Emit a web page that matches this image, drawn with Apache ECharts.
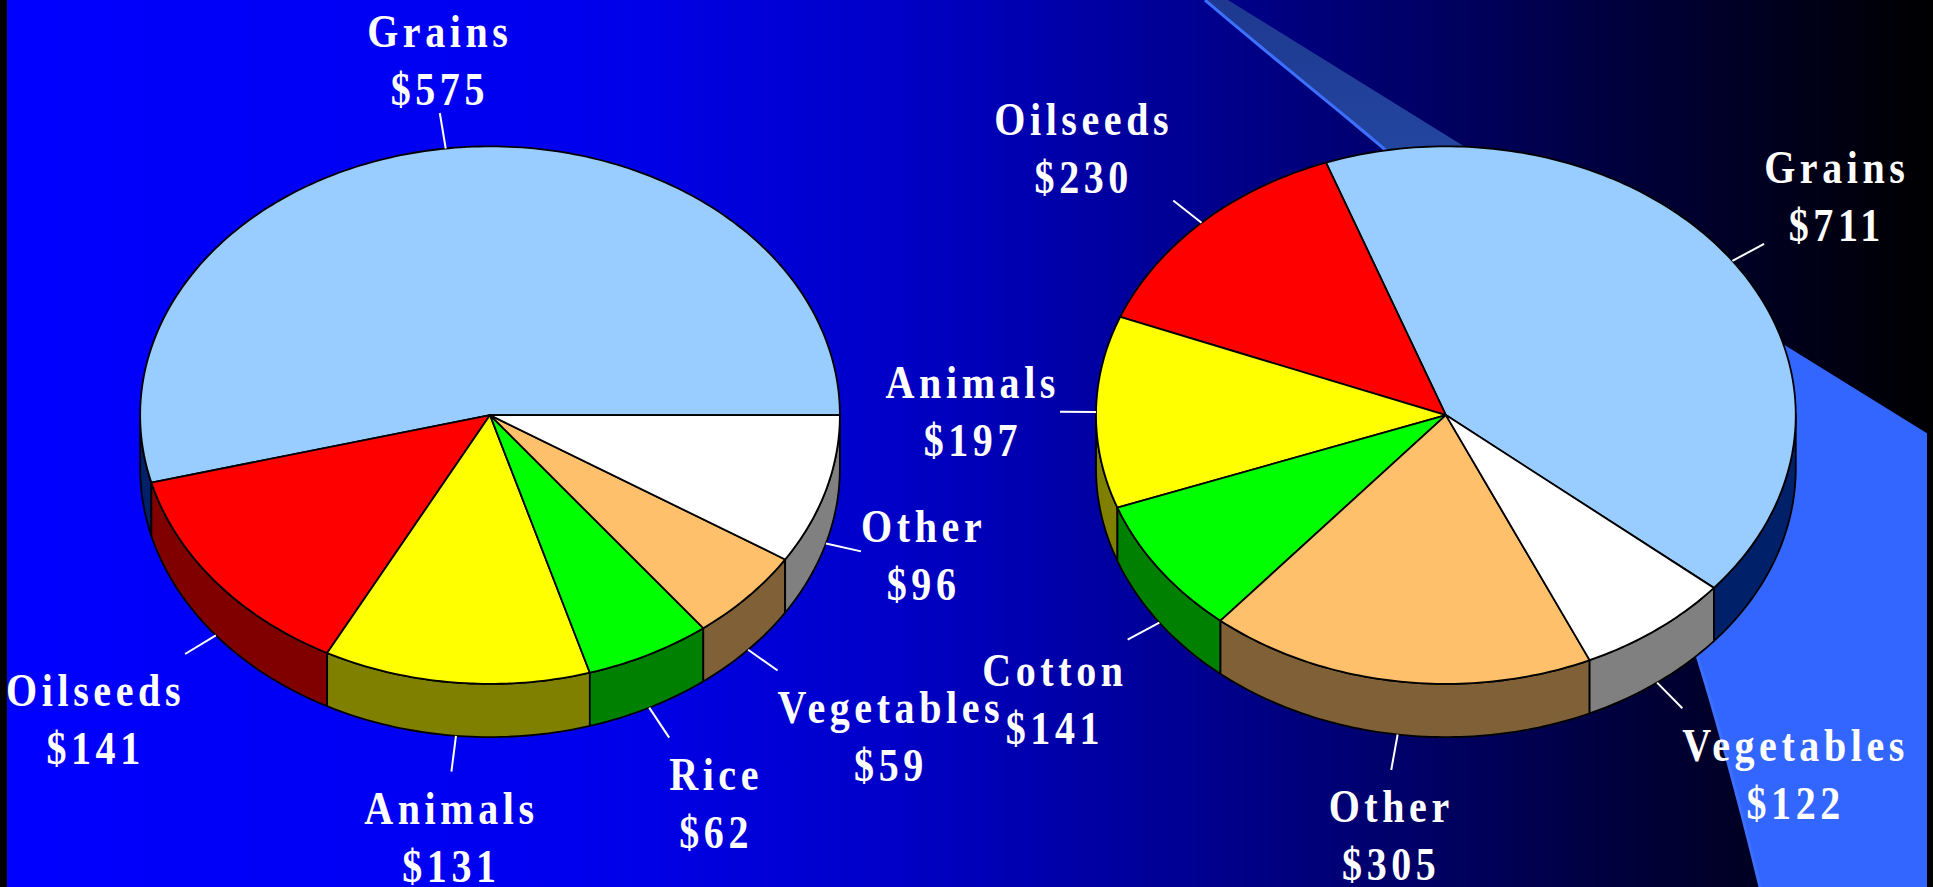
<!DOCTYPE html>
<html>
<head>
<meta charset="utf-8">
<script src="https://cdn.jsdelivr.net/npm/echarts@6/dist/echarts.min.js"></script>
<style>
html, body { margin: 0; padding: 0; background: #000; }
#main { width: 1933px; height: 887px; }
#main text { letter-spacing: 4.6px; }
</style>
</head>
<body>
<div id="main"></div>
<script>
// left pie
var leftNames = ["Grains", "Oilseeds", "Animals", "Rice", "Vegetables", "Other"];
var leftValues = [575, 141, 131, 62, 59, 96];
// right pie
var rightNames = ["Grains", "Oilseeds", "Animals", "Cotton", "Other", "Vegetables"];
var rightValues = [711, 230, 197, 141, 305, 122];

// slice colours by position: top face / side wall
var topColors = ["#99CCFF", "#FF0000", "#FFFF00", "#00FF00", "#FFC06C", "#FFFFFF"];
var sideColors = ["#00206A", "#800000", "#808000", "#008000", "#806036", "#808080"];

var LABEL_FONT = 'bold 40px "Liberation Serif", "Times New Roman", serif';
var LETTER = 4.6;

var measureCtx = document.createElement("canvas").getContext("2d");
measureCtx.font = LABEL_FONT;
function textWidth(s) {
  return measureCtx.measureText(s).width + LETTER * s.length;
}
function ramp(v) {
  var s = Math.min(1, Math.max(0, (Math.abs(v) - 0.2) / 0.3));
  return v < 0 ? -s : s;
}

// 3D tilted pie drawn by a custom series
function pieRenderer(names, values, pos) {
  var total = values.reduce(function (a, b) { return a + b; }, 0);
  var starts = [];
  var acc = pos.startAngle;
  values.forEach(function (v) {
    starts.push(acc);
    acc += v / total * 360;
  });

  return function (params, api) {
    var i = params.dataIndex;
    var W = api.getWidth(), H = api.getHeight();
    var cx = pos.cx * W, cy = pos.cy * H;
    var rx = pos.rx * W, ry = pos.ry * H, depth = pos.depth * H;
    var a0 = starts[i];
    var a1 = a0 + api.value(0) / total * 360;

    function pt(a, dy) {
      var r = a * Math.PI / 180;
      return [cx + rx * Math.cos(r), cy - ry * Math.sin(r) + (dy || 0)];
    }
    function arc(from, to, dy) {
      var pts = [];
      var n = Math.max(2, Math.ceil(Math.abs(to - from)));
      for (var k = 0; k <= n; k++) pts.push(pt(from + (to - from) * k / n, dy));
      return pts;
    }

    var children = [];
    // side wall on the front half
    [-360, 0, 360].forEach(function (off) {
      var s = Math.max(a0, 180 + off), e = Math.min(a1, 360 + off);
      if (e > s) {
        children.push({
          type: "polygon",
          shape: { points: arc(s, e, 0).concat(arc(e, s, depth)) },
          style: { fill: sideColors[i], stroke: "#000", lineWidth: 1.8, lineJoin: "round" }
        });
      }
    });
    // top face
    children.push({
      type: "polygon",
      shape: { points: [[cx, cy]].concat(arc(a0, a1, 0)) },
      style: { fill: topColors[i], stroke: "#000", lineWidth: 1.8, lineJoin: "round" }
    });

    // leader line + label
    var am = (a0 + a1) / 2, rad = am * Math.PI / 180;
    var front = Math.sin(rad) < 0;
    var p0 = pt(am, front ? depth : 0);
    var ux = rx * Math.cos(rad), uy = -ry * Math.sin(rad);
    var ul = Math.sqrt(ux * ux + uy * uy);
    ux /= ul; uy /= ul;
    var p1 = [p0[0] + ux * 36, p0[1] + uy * 36];
    children.push({
      type: "line",
      shape: { x1: p0[0], y1: p0[1], x2: p1[0], y2: p1[1] },
      style: { stroke: "#FFFFFF", lineWidth: 2 }
    });

    var name = names[i], val = "$" + api.value(0);
    var half = Math.max(textWidth(name), textWidth(val)) / 2;
    var bx = p1[0] + half * ramp(ux);
    var by = p1[1] + (uy > 0 ? 66 : 52) * ramp(uy);
    [[name, by - 29], [val, by + 29]].forEach(function (l) {
      children.push({
        type: "text",
        x: bx, y: l[1], scaleY: 1.15,
        style: {
          text: l[0], fill: "#FFFFFF", font: LABEL_FONT,
          align: "center", verticalAlign: "middle"
        }
      });
    });

    return { type: "group", children: children };
  };
}

// background swoosh (cubic curve sampled into a polygon)
function bezier(p0, p1, p2, p3, n) {
  var pts = [];
  for (var k = 0; k <= n; k++) {
    var t = k / n, m = 1 - t;
    pts.push([
      m * m * m * p0[0] + 3 * m * m * t * p1[0] + 3 * m * t * t * p2[0] + t * t * t * p3[0],
      m * m * m * p0[1] + 3 * m * m * t * p1[1] + 3 * m * t * t * p2[1] + t * t * t * p3[1]
    ]);
  }
  return pts;
}
var curve = bezier([1205, 0], [1505, 256], [1610, 272], [1760, 887], 60);
var swoosh = curve.concat([[1933, 887], [1933, 437], [1228, 0]]);

var chart = echarts.init(document.getElementById("main"), null, { renderer: "svg" });

var option = {
  animation: false,
  backgroundColor: new echarts.graphic.LinearGradient(0, 0, 1, 0, [
    { offset: 0, color: "#0000FF" },
    { offset: 0.3, color: "#0000EE" },
    { offset: 0.46, color: "#0000C8" },
    { offset: 0.62, color: "#000090" },
    { offset: 0.75, color: "#000060" },
    { offset: 0.87, color: "#000030" },
    { offset: 1, color: "#000000" }
  ]),
  graphic: [
    {
      type: "polygon", z: -1, silent: true,
      shape: { points: swoosh },
      style: {
        fill: new echarts.graphic.LinearGradient(0, 0, 0, 1, [
          { offset: 0, color: "#1E3890" },
          { offset: 0.2, color: "#2448A2" },
          { offset: 0.38, color: "#3366FF" },
          { offset: 1, color: "#3366FF" }
        ])
      }
    },
    {
      type: "polyline", z: -1, silent: true,
      shape: { points: curve },
      style: { stroke: "#3D70FF", lineWidth: 3, fill: null }
    },
    // thin dark frame at the slide edges
    { type: "rect", z: -1, silent: true, shape: { x: 0, y: 0, width: 7, height: 887 }, style: { fill: "#000" } },
    { type: "rect", z: -1, silent: true, shape: { x: 1927, y: 0, width: 6, height: 887 }, style: { fill: "#000" } }
  ],
  series: [
    {
      type: "custom",
      coordinateSystem: "none",
      silent: true,
      renderItem: pieRenderer(leftNames, leftValues,
        { cx: 0.2535, cy: 0.468, rx: 0.181, ry: 0.303, depth: 0.06, startAngle: 0 }),
      data: leftValues.map(function (v) { return [v]; })
    },
    {
      type: "custom",
      coordinateSystem: "none",
      silent: true,
      renderItem: pieRenderer(rightNames, rightValues,
        { cx: 0.748, cy: 0.468, rx: 0.181, ry: 0.303, depth: 0.06, startAngle: -40 }),
      data: rightValues.map(function (v) { return [v]; })
    }
  ]
};

chart.setOption(option);
</script>
</body>
</html>
